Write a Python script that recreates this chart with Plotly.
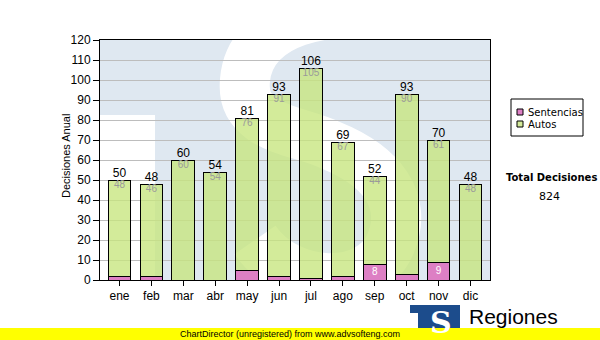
import plotly.graph_objects as go

# Monthly decisions, stacked: sentencias at the bottom, autos on top
months = ["ene", "feb", "mar", "abr", "may", "jun", "jul", "ago", "sep", "oct", "nov", "dic"]
sentencias = [2, 2, 0, 0, 5, 2, 1, 2, 8, 3, 9, 0]
autos = [48, 46, 60, 54, 76, 91, 105, 67, 44, 90, 61, 48]
y_ticks = list(range(0, 121, 10))

totals = [s + a for s, a in zip(sentencias, autos)]
grand_total = sum(totals)

W, H = 600, 340
L, R, T, B = 100, 110, 40, 60
PW, PH = W - L - R, H - T - B

PINK = "#dd7fc4"
GREEN = "rgba(198,229,125,0.78)"
SANS = "Liberation Sans, Arial, sans-serif"


def fx(x):
    """pixel x -> paper x"""
    return (x - L) / PW


def fy(y):
    """pixel y -> paper y"""
    return (H - B - y) / PH


def path(cmds):
    out = []
    for c in cmds:
        if isinstance(c, str):
            out.append(c)
        else:
            out.append(f"{fx(c[0]):.4f},{fy(c[1]):.4f}")
    return " ".join(out)


fig = go.Figure()

fig.add_trace(go.Bar(
    x=months, y=sentencias, name="Sentencias",
    marker=dict(color=PINK, line=dict(color="black", width=1)),
    hoverinfo="x+y+name",
))
fig.add_trace(go.Bar(
    x=months, y=autos, name="Autos",
    marker=dict(color=GREEN, line=dict(color="black", width=1)),
    hoverinfo="x+y+name",
))

# totals above each bar
fig.add_trace(go.Scatter(
    x=months, y=totals, mode="text", text=[str(v) for v in totals],
    textposition="top center", textfont=dict(family=SANS, size=12, color="black"),
    showlegend=False, hoverinfo="skip", cliponaxis=False,
))
# autos value just inside the top of each bar
fig.add_trace(go.Scatter(
    x=months, y=totals, mode="text", text=[str(v) for v in autos],
    textposition="bottom center", textfont=dict(family=SANS, size=10, color="#9a9a9a"),
    showlegend=False, hoverinfo="skip", cliponaxis=False,
))
# sentencias value inside the pink segment when it is tall enough
fig.add_trace(go.Scatter(
    x=months, y=[v / 2 for v in sentencias], mode="text",
    text=[str(v) if v >= 8 else "" for v in sentencias],
    textposition="middle center", textfont=dict(family=SANS, size=10, color="white"),
    showlegend=False, hoverinfo="skip", cliponaxis=False,
))

shapes = []
# light "TS" watermark behind the plot
shapes.append(dict(type="rect", xref="paper", yref="paper", layer="below",
                   x0=fx(100), x1=fx(155), y0=fy(115), y1=fy(300),
                   fillcolor="white", line=dict(width=0)))
shapes.append(dict(type="path", xref="paper", yref="paper", layer="below",
                   path=path(["M", (395, 15), "C", (330, 5), (250, 20), (245, 80),
                              "C", (240, 130), (300, 130), (330, 145),
                              "C", (380, 165), (410, 200), (390, 245),
                              "C", (370, 290), (290, 290), (255, 240)]),
                   line=dict(color="white", width=50)))

# legend box
shapes.append(dict(type="rect", xref="paper", yref="paper",
                   x0=fx(511), x1=fx(583), y0=fy(136), y1=fy(99),
                   fillcolor="white", line=dict(color="black", width=1)))
shapes.append(dict(type="rect", xref="paper", yref="paper",
                   x0=fx(517), x1=fx(523), y0=fy(115), y1=fy(109),
                   fillcolor=PINK, line=dict(color="black", width=1)))
shapes.append(dict(type="rect", xref="paper", yref="paper",
                   x0=fx(517), x1=fx(523), y0=fy(127), y1=fy(121),
                   fillcolor="#d4ea9a", line=dict(color="black", width=1)))

# logo block
shapes.append(dict(type="rect", xref="paper", yref="paper",
                   x0=fx(410), x1=fx(460), y0=fy(340), y1=fy(305),
                   fillcolor="#1c4c8c", line=dict(width=0)))
shapes.append(dict(type="rect", xref="paper", yref="paper",
                   x0=fx(410), x1=fx(418), y0=fy(340), y1=fy(313),
                   fillcolor="white", line=dict(width=0)))

# footer strip
shapes.append(dict(type="rect", xref="paper", yref="paper",
                   x0=fx(0), x1=fx(600), y0=fy(340), y1=fy(328),
                   fillcolor="#ffff00", line=dict(width=0)))

annotations = [
    dict(text="Decisiones Anual", textangle=-90, xref="paper", yref="paper",
         x=fx(66), y=fy(156), showarrow=False, xanchor="center", yanchor="middle",
         font=dict(family=SANS, size=11, color="black")),
    dict(text="Sentencias", xref="paper", yref="paper", x=fx(526), y=fy(112),
         showarrow=False, xanchor="left", yanchor="middle",
         font=dict(family="DejaVu Sans", size=10, color="black")),
    dict(text="Autos", xref="paper", yref="paper", x=fx(526), y=fy(124),
         showarrow=False, xanchor="left", yanchor="middle",
         font=dict(family="DejaVu Sans", size=10, color="black")),
    dict(text="<b>Total Decisiones</b>", xref="paper", yref="paper", x=fx(551), y=fy(177),
         showarrow=False, xanchor="center", yanchor="middle",
         font=dict(family="DejaVu Sans", size=10, color="black")),
    dict(text=str(grand_total), xref="paper", yref="paper", x=fx(549), y=fy(196),
         showarrow=False, xanchor="center", yanchor="middle",
         font=dict(family="DejaVu Sans", size=11, color="black")),
    dict(text="<b>S</b>", xref="paper", yref="paper", x=fx(441), y=fy(322),
         showarrow=False, xanchor="center", yanchor="middle",
         font=dict(family="DejaVu Serif", size=30, color="white")),
    dict(text="Regiones", xref="paper", yref="paper", x=fx(467), y=fy(316),
         showarrow=False, xanchor="left", yanchor="middle",
         font=dict(family=SANS, size=21, color="black")),
    dict(text="ChartDirector (unregistered) from www.advsofteng.com", xref="paper", yref="paper",
         x=fx(290), y=fy(334), showarrow=False, xanchor="center", yanchor="middle",
         font=dict(family=SANS, size=9, color="black")),
]

fig.update_layout(
    width=W, height=H,
    margin=dict(l=L, r=R, t=T, b=B, pad=0),
    paper_bgcolor="white",
    plot_bgcolor="#dfe8f1",
    barmode="stack",
    bargap=0.29,
    showlegend=False,
    shapes=shapes,
    annotations=annotations,
    font=dict(family=SANS, size=12, color="black"),
    xaxis=dict(
        type="category", categoryorder="array", categoryarray=months,
        showline=True, linecolor="black", linewidth=1, mirror=True,
        ticks="outside", ticklen=5, tickcolor="black",
        showgrid=False, tickfont=dict(family=SANS, size=12, color="black"),
        fixedrange=True,
    ),
    yaxis=dict(
        range=[0, 120], tickvals=y_ticks,
        showline=True, linecolor="black", linewidth=1, mirror=True,
        ticks="outside", ticklen=6, tickcolor="black",
        showgrid=True, gridcolor="#bdbdbd", gridwidth=1,
        zeroline=False,
        tickfont=dict(family=SANS, size=12, color="black"),
        fixedrange=True,
    ),
)

fig.write_html("out.html", config={"displayModeBar": False})
